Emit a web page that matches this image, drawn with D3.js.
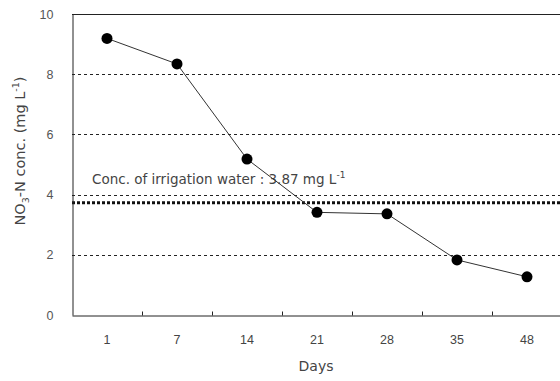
<!DOCTYPE html>
<html>
<head>
<meta charset="utf-8">
<script src="https://cdn.jsdelivr.net/npm/d3@7"></script>
<style>
  body { margin: 0; background: #fff; }
  svg { display: block; font-family: "DejaVu Sans", sans-serif; }
</style>
</head>
<body>
<svg id="chart" width="560" height="381"></svg>
<script>
const days = ["1", "7", "14", "21", "28", "35", "48"];
const no3 = [9.19, 8.34, 5.18, 3.41, 3.36, 1.83, 1.27];
const yTicks = [0, 2, 4, 6, 8, 10];
const irrigation = 3.73;

const width = 560, height = 381;
const padLeft = 72, padTop = 14, plotBottom = 315, plotRight = 562;

const svg = d3.select("#chart");

const x = d3.scaleBand().domain(days).range([padLeft, plotRight]);
const y = d3.scaleLinear().domain([0, 10]).range([plotBottom, padTop]);

// gridlines
svg.selectAll(".grid")
  .data(yTicks.filter(d => d > 0 && d < 10))
  .join("line")
    .attr("class", "grid")
    .attr("x1", padLeft).attr("x2", width)
    .attr("y1", d => Math.round(y(d)) + 0.5).attr("y2", d => Math.round(y(d)) + 0.5)
    .attr("stroke", "#222").attr("stroke-dasharray", "3,3");

// frame top
svg.append("line")
  .attr("x1", padLeft).attr("x2", width)
  .attr("y1", padTop + 0.5).attr("y2", padTop + 0.5)
  .attr("stroke", "#222");

// irrigation water line
svg.append("line")
  .attr("x1", padLeft).attr("x2", width)
  .attr("y1", y(irrigation)).attr("y2", y(irrigation))
  .attr("stroke", "#111").attr("stroke-width", 3).attr("stroke-dasharray", "3,2");

svg.append("text")
  .attr("x", 92).attr("y", 184)
  .attr("font-size", 13.5).attr("fill", "#444")
  .text("Conc. of irrigation water : 3.87 mg L")
  .append("tspan").attr("dy", -6).attr("font-size", 9).text("-1");

// y axis
const yAxis = svg.append("g")
  .attr("transform", `translate(${padLeft + 0.5},0)`)
  .call(d3.axisLeft(y).tickValues(yTicks).tickSize(0).tickPadding(19));
yAxis.select(".domain").attr("stroke", "#222");
yAxis.selectAll("text").attr("font-size", 12.5).attr("fill", "#555");

// x axis
const xAxis = svg.append("g")
  .attr("transform", `translate(0,${plotBottom + 0.5})`)
  .call(d3.axisBottom(x).tickSize(0).tickPadding(20));
xAxis.select(".domain").attr("stroke", "#222");
xAxis.selectAll("text").attr("font-size", 12.5).attr("fill", "#444");
xAxis.selectAll(".sep")
  .data(days.slice(1))
  .join("line")
    .attr("class", "sep")
    .attr("x1", d => Math.round(x(d)) + 0.5).attr("x2", d => Math.round(x(d)) + 0.5)
    .attr("y1", 0).attr("y2", -4)
    .attr("stroke", "#222");

// axis titles
svg.append("text")
  .attr("x", (padLeft + plotRight) / 2 - 1).attr("y", 371)
  .attr("text-anchor", "middle").attr("font-size", 14).attr("fill", "#444")
  .text("Days");

const yl = svg.append("text")
  .attr("transform", "translate(25,151) rotate(-90)")
  .attr("text-anchor", "middle").attr("font-size", 14.5).attr("fill", "#444");
yl.append("tspan").text("NO");
yl.append("tspan").attr("dy", 4).attr("font-size", 9.5).text("3");
yl.append("tspan").attr("dy", -4).text("-N conc. (mg  L");
yl.append("tspan").attr("dy", -6).attr("font-size", 9.5).text("-1");
yl.append("tspan").attr("dy", 6).text(")");

// series
const pts = days.map((d, i) => [x(d) + x.bandwidth() / 2, y(no3[i])]);
svg.append("path")
  .attr("d", d3.line()(pts))
  .attr("fill", "none").attr("stroke", "#333").attr("stroke-width", 1);

svg.selectAll(".pt")
  .data(no3)
  .join("circle")
    .attr("class", "pt")
    .attr("cx", (d, i) => x(days[i]) + x.bandwidth() / 2)
    .attr("cy", d => y(d))
    .attr("r", 5.5)
    .attr("fill", "#000");
</script>
</body>
</html>
